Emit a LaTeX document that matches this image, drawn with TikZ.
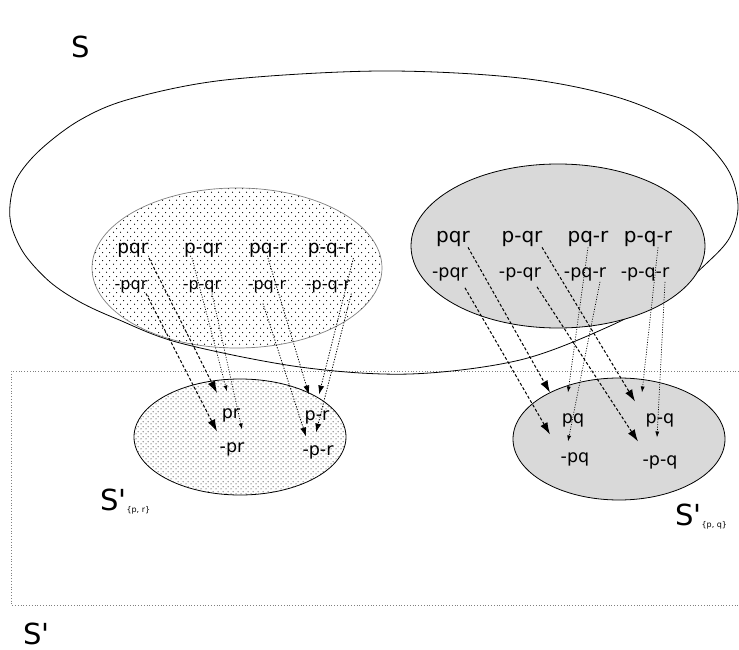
\documentclass[tikz,border=0pt]{standalone}
\usepackage{fontspec}
\setmainfont{DejaVu Sans}
\usetikzlibrary{arrows.meta, patterns.meta}

\tikzdeclarepattern{
  name=sparsedots,
  type=uncolored,
  bottom left={(0pt,0pt)},
  top right={(7pt,8pt)},
  tile size={(7pt,8pt)},
  code={\fill (1.75pt,2pt) circle (0.65pt); \fill (5.25pt,6pt) circle (0.65pt);}
}
\tikzdeclarepattern{
  name=densedots,
  type=uncolored,
  bottom left={(0pt,0pt)},
  top right={(5pt,5pt)},
  tile size={(5pt,5pt)},
  code={\fill (1.25pt,1.25pt) circle (0.6pt); \fill (3.75pt,3.75pt) circle (0.6pt);}
}

\tikzset{
  biglabel/.style={font=\fontsize{29}{29}\selectfont, anchor=base west, inner sep=0pt},
  rowA/.style={font=\fontsize{18.5}{18.5}\selectfont, anchor=base, inner sep=1pt},
  rowB/.style={font=\fontsize{16}{16}\selectfont, anchor=base, inner sep=1pt},
  rowC/.style={font=\fontsize{20}{20}\selectfont, anchor=base, inner sep=1pt},
  rowD/.style={font=\fontsize{17.5}{17.5}\selectfont, anchor=base, inner sep=1pt},
  rowE/.style={font=\fontsize{17.5}{17.5}\selectfont, anchor=base, inner sep=1pt},
  bigmap/.style={dash pattern=on 3pt off 2pt, line width=1pt, -{Latex[length=12pt,width=8pt]}},
  midmap/.style={dash pattern=on 1.2pt off 1.5pt, line width=0.8pt, -{Latex[length=9pt,width=6pt]}},
  smallmap/.style={dash pattern=on 1pt off 1.5pt, line width=0.7pt, -{Latex[length=6pt,width=4pt]}}
}

\begin{document}
\begin{tikzpicture}[x=1pt,y=-1pt]
\useasboundingbox (0,0) rectangle (739,650);
	% Sets S and S'
\draw [gray, dotted, line width=0.8pt] (739,371) -| (11,605) -- (739,605);
\draw [line width=0.8pt] plot [smooth cycle, tension=0.55] coordinates {
  (10,205) (17,178) (40,150) (80,120) (130,99) (225,80) (380,71) (520,78)
  (620,98) (690,130) (727,168) (738,205) (730,237) (708,262) (672,292)
  (610,326) (520,360) (410,374) (300,367) (180,343) (117,319) (80,302)
  (50,282) (25,255) (12,228)};
\draw [gray, line width=0.7pt, pattern=sparsedots] (237,268) ellipse (145 and 80);
\draw [line width=0.8pt, fill=gray!30] (558,246) ellipse (147 and 82);
\draw [line width=0.8pt, pattern=densedots] (240,437) ellipse (106 and 58);
\draw [line width=0.8pt, fill=gray!30] (619,439) ellipse (106 and 61);
\node [biglabel] (lS) at (71,58) {S};
\node [biglabel] (lSp) at (23,644) {S\textquotesingle};
\node [biglabel] (lSpr) at (100,510) {S\textquotesingle\raisebox{-2pt}{\fontsize{8}{8}\selectfont\{p, r\}}};
\node [biglabel] (lSpq) at (675,525) {S\textquotesingle\raisebox{-2pt}{\fontsize{8}{8}\selectfont\{p, q\}}};

	% Left worlds
\node [rowA] (lpqr) at (133,253) {pqr};
\node [rowA] (lpnqr) at (203,253) {p-qr};
\node [rowA] (lpqnr) at (268,253) {pq-r};
\node [rowA] (lpnqnr) at (330,253) {p-q-r};
\node [rowB] (lnpqr) at (131,289) {-pqr};
\node [rowB] (lnpnqr) at (202,289) {-p-qr};
\node [rowB] (lnpqnr) at (267,289) {-pq-r};
\node [rowB] (lnpnqnr) at (328,289) {-p-q-r};
\node [rowE] (lpr) at (231,418) {pr};
\node [rowE] (lnpr) at (232,452) {-pr};
\node [rowE] (lpnr) at (317,420) {p-r};
\node [rowE] (lnpnr) at (318,455) {-p-r};
\draw [bigmap] ([xshift=16pt]lpqr.south) -- ([xshift=-14pt,yshift=14pt]lpr.north);
\draw [bigmap] ([xshift=15pt]lnpqr.south) -- ([xshift=-15pt,yshift=9.5pt]lnpr.north);
\draw [smallmap] ([xshift=-11pt]lpnqr.south) -- ([xshift=-4pt,yshift=15.5pt]lpr.north);
\draw [smallmap] ([xshift=10pt]lnpnqr.south) -- ([xshift=10pt,yshift=11.5pt]lnpr.north);
\draw [midmap] (lpqnr.south) -- ([xshift=-8pt,yshift=14.5pt]lpnr.north);
\draw [midmap] ([xshift=-4pt,yshift=-10pt]lnpqnr.south) -- ([xshift=-12pt,yshift=7.5pt]lnpnr.north);
\draw [midmap] (lpnqnr.south east) -- ([xshift=2pt,yshift=14.5pt]lpnr.north);
\draw [midmap] (lnpnqnr.south east) -- ([xshift=-2pt,yshift=11.5pt]lnpnr.north);

	% Right worlds
\node [rowC] (rpqr) at (453,242) {pqr};
\node [rowC] (rpnqr) at (522,242) {p-qr};
\node [rowC] (rpqnr) at (588,242) {pq-r};
\node [rowC] (rpnqnr) at (648,242) {p-q-r};
\node [rowD] (rnpqr) at (450,277) {-pqr};
\node [rowD] (rnpnqr) at (520,277) {-p-qr};
\node [rowD] (rnpqnr) at (585,277) {-pq-r};
\node [rowD] (rnpnqnr) at (645,277) {-p-q-r};
\node [rowE] (rpq) at (573,423) {pq};
\node [rowE] (rpnq) at (660,423) {p-q};
\node [rowE] (rnpq) at (575,462) {-pq};
\node [rowE] (rnpnq) at (660,465) {-p-q};
\draw [bigmap] ([xshift=15pt]rpqr.south) -- ([xshift=-23pt,yshift=19.5pt]rpq.north);
\draw [bigmap] ([xshift=15pt,yshift=-6pt]rnpqr.south) -- ([xshift=-25pt,yshift=16.5pt]rnpq.north);
\draw [bigmap] ([xshift=20pt]rpnqr.south) -- ([xshift=-25pt,yshift=10.5pt]rpnq.north);
\draw [bigmap] ([xshift=17pt,yshift=-5pt]rnpnqr.south) -- ([xshift=-22pt,yshift=12.5pt]rnpnq.north);
\draw [smallmap] (rpqnr.south) -- ([xshift=-5pt,yshift=19.5pt]rpq.north);
\draw [smallmap] ([xshift=15pt]rnpqnr.south) -- ([xshift=-7pt,yshift=9.5pt]rnpq.north);
\draw [smallmap] ([xshift=10pt]rpnqnr.south) -- ([xshift=-18pt,yshift=19.5pt]rpnq.north);
\draw [smallmap] ([xshift=20pt]rnpnqnr.south) -- ([xshift=-3pt,yshift=16.5pt]rnpnq.north);
\end{tikzpicture}
\end{document}
